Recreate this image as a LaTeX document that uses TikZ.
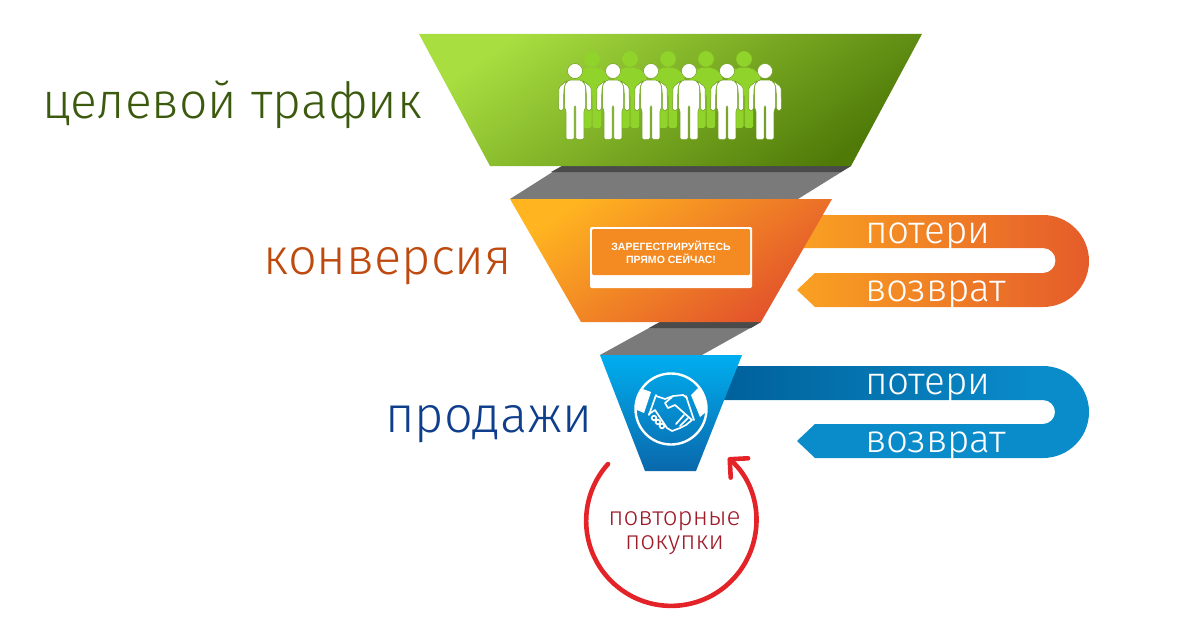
\documentclass[tikz,border=0pt]{standalone}
\usepackage{fontspec}
\setmainfont{Liberation Sans}
\newfontfamily\labelfont{Fira Sans Light}
\usetikzlibrary{arrows.meta}

\definecolor{cGrey}{HTML}{7A7A7A}
\definecolor{cGreyD}{HTML}{4A4A4A}
\definecolor{cBack}{HTML}{8FD32B}
\definecolor{cLine}{HTML}{6E9E1E}
\definecolor{cGreenA}{HTML}{A8DE40}
\definecolor{cGreenB}{HTML}{4F7A08}
\definecolor{cOrangeA}{HTML}{FFB420}
\definecolor{cOrangeB}{HTML}{E2522B}
\definecolor{cBlueA}{HTML}{00AEEF}
\definecolor{cBlueB}{HTML}{0A68AC}
\definecolor{cBlueM}{HTML}{0A8BCA}
\definecolor{cBlueD}{HTML}{00609A}
\definecolor{cBtn}{HTML}{F48A22}
\definecolor{tGreen}{HTML}{3B5A0E}
\definecolor{tOrange}{HTML}{BF4A0F}
\definecolor{tBlue}{HTML}{0F3F8C}
\definecolor{tRed}{HTML}{A01C2A}
\definecolor{cLoop}{HTML}{E42328}

\tikzstyle{fGreen}=[shading=axis,left color=cGreenA,right color=cGreenB,shading angle=35]
\tikzstyle{fOrange}=[shading=axis,left color=cOrangeA,right color=cOrangeB,shading angle=35]
\tikzstyle{fBlue}=[shading=axis,top color=cBlueA,bottom color=cBlueB]
\tikzstyle{nGreen}=[anchor=base west,inner sep=0pt,font=\labelfont\fontsize{71}{71}\selectfont,text=tGreen]
\tikzstyle{nOrange}=[anchor=base west,inner sep=0pt,font=\labelfont\fontsize{72}{72}\selectfont,text=tOrange]
\tikzstyle{nBlue}=[anchor=base west,inner sep=0pt,font=\labelfont\fontsize{72}{72}\selectfont,text=tBlue]
\tikzstyle{nBand}=[anchor=base west,inner sep=0pt,font=\labelfont\fontsize{55}{55}\selectfont,text=white]
\tikzstyle{nBtn}=[inner sep=0pt,align=center,font=\bfseries\fontsize{15}{18}\selectfont,text=white]
\tikzstyle{nLoop}=[inner sep=0pt,align=center,font=\labelfont\fontsize{37}{34}\selectfont,text=tRed]
\tikzstyle{eLoop}=[line width=0.23cm,line cap=round,color=cLoop,-{Straight Barb[round,length=0.65cm,width=1.3cm]}]
\tikzstyle{eHand}=[draw=white,line width=0.085cm,line join=round,line cap=round]
\tikzstyle{pBack}=[fill=cBack,draw=cBack,line width=0.03cm]
\tikzstyle{pFront}=[fill=white,draw=cLine,line width=0.025cm]

\tikzset{
    person/.pic={
        \path[pic actions] (0,0) circle (7.5);
        \path[pic actions,rounded corners=2] (-10.5,14) -- (-6,9) -- (6,9) -- (10.5,14) -- (10.5,37) -- (8.8,40) -- (8.8,68.5) -- (0.8,68.5) -- (0.8,35) -- (-0.8,35) -- (-0.8,68.5) -- (-8.8,68.5) -- (-8.8,40) -- (-10.5,37) -- cycle;
        \path[pic actions,rounded corners=2.5] (-7,9) -- (-16,16) -- (-16.5,39.5) -- (-11.5,39.5) -- (-11.2,19) -- (-10,13) -- cycle;
        \path[pic actions,rounded corners=2.5] (7,9) -- (16,16) -- (16.5,39.5) -- (11.5,39.5) -- (11.2,19) -- (10,13) -- cycle;
    }
}

\begin{document}
\begin{tikzpicture}[x=0.05cm,y=-0.05cm]
    \useasboundingbox (0,0) rectangle (1200,638);
    % bands
    \path[shade,shading=axis,left color=cOrangeA!85!cOrangeB,right color=cOrangeB!90!cOrangeA] (780,215) -- (1043,215) arc[start angle=-90,end angle=90,radius=46] -- (815,307) -- (797,290) -- (815,273) -- (1043,273) arc[start angle=90,end angle=-90,radius=12.5] -- (780,248) -- cycle;
    \path[fill=cBlueM] (720,366) -- (1043,366) arc[start angle=-90,end angle=90,radius=46] -- (815,458) -- (797,441) -- (815,424) -- (1043,424) arc[start angle=90,end angle=-90,radius=12] -- (720,400) -- cycle;
    \path[shade,shading=axis,left color=cBlueD,right color=cBlueM] (720,366) rectangle (1036,399);
    % grey links
    \path[fill=cGrey] (562,166) -- (851,166) -- (798,199) -- (510,199) -- cycle;
    \path[fill=cGreyD] (562,166) -- (851,166) -- (841,172) -- (551,172) -- cycle;
    \path[fill=cGrey] (660,322) -- (761,322) -- (702,355) -- (600,355) -- cycle;
    \path[fill=cGreyD] (660,322) -- (761,322) -- (751,328) -- (649,328) -- cycle;
    % funnel
    \path[shade,fGreen] (419,34) -- (922,34) -- (851,166) -- (490,166) -- cycle;
    \path[shade,fOrange] (510,199) -- (832,199) -- (761,322) -- (581,322) -- cycle;
    \path[shade,fBlue] (600,355) -- (742,355) -- (696,471) -- (645,471) -- cycle;

    % people
    \pic[pBack] at (592,59) {person};
    \pic[pBack] at (630,59) {person};
    \pic[pBack] at (668,59) {person};
    \pic[pBack] at (706,59) {person};
    \pic[pBack] at (744,59) {person};
    \pic[pFront] at (575,71) {person};
    \pic[pFront] at (613,71) {person};
    \pic[pFront] at (651,71) {person};
    \pic[pFront] at (689,71) {person};
    \pic[pFront] at (727,71) {person};
    \pic[pFront] at (765,71) {person};

    % button
    \path[fill=white,rounded corners=2] (590,227) rectangle (752,288);
    \path[fill=cBtn,rounded corners=2] (592,229) rectangle (750,275);
    \draw (671,252) node[nBtn] (btnText) {ЗАРЕГЕСТРИРУЙТЕСЬ\\ПРЯМО СЕЙЧАС!};

    % handshake
    \draw (671,409) node[circle,draw=white,line width=0.12cm,minimum size=3.55cm,inner sep=0pt] (hsRing) {};
    \begin{scope}
        \clip (671,409) circle (35);
        \path[fill=white] (640,388) -- (651,392) -- (644,413) -- (630,407) -- cycle;
        \path[fill=white] (699,387) -- (691,395) -- (700,417) -- (712,407) -- cycle;
    \end{scope}
    \path[eHand] (656,395) -- (649,415);
    \path[eHand] (686,396) -- (694,420);
    \path[eHand] (656,396) -- (665,399) -- (673,396) -- (683,395) -- (687,398);
    \path[eHand] (672,397) -- (665,403) -- (668,408) -- (675,405) -- (692,420) -- (686,425) -- (680,428) -- (672,431) -- (667,428);
    \path[eHand] (649,414) -- (655,410) -- (667,428);
    \path[eHand] (654,418) circle (2.3) (658,422) circle (2.3) (662,426) circle (2.3);
    \path[eHand] (676,424) -- (684,415) (680,426) -- (688,418);

    % loop
    \coordinate (loopStart) at (608,464);
    \draw[eLoop] (loopStart) arc[start angle=222,end angle=-48,radius=85];

    % labels
    \draw (42,118) node[nGreen] (lbTraffic) {целевой трафик};
    \draw (263,274) node[nOrange] (lbConv) {конверсия};
    \draw (385,432) node[nBlue] (lbSales) {продажи};
    \draw (865,243) node[nBand] (lbLossO) {потери};
    \draw (865,301) node[nBand] (lbBackO) {возврат};
    \draw (865,394) node[nBand] (lbLossB) {потери};
    \draw (865,452) node[nBand] (lbBackB) {возврат};
    \draw (674.5,533) node[nLoop] (lbLoop) {повторные\\покупки};
\end{tikzpicture}
\end{document}
